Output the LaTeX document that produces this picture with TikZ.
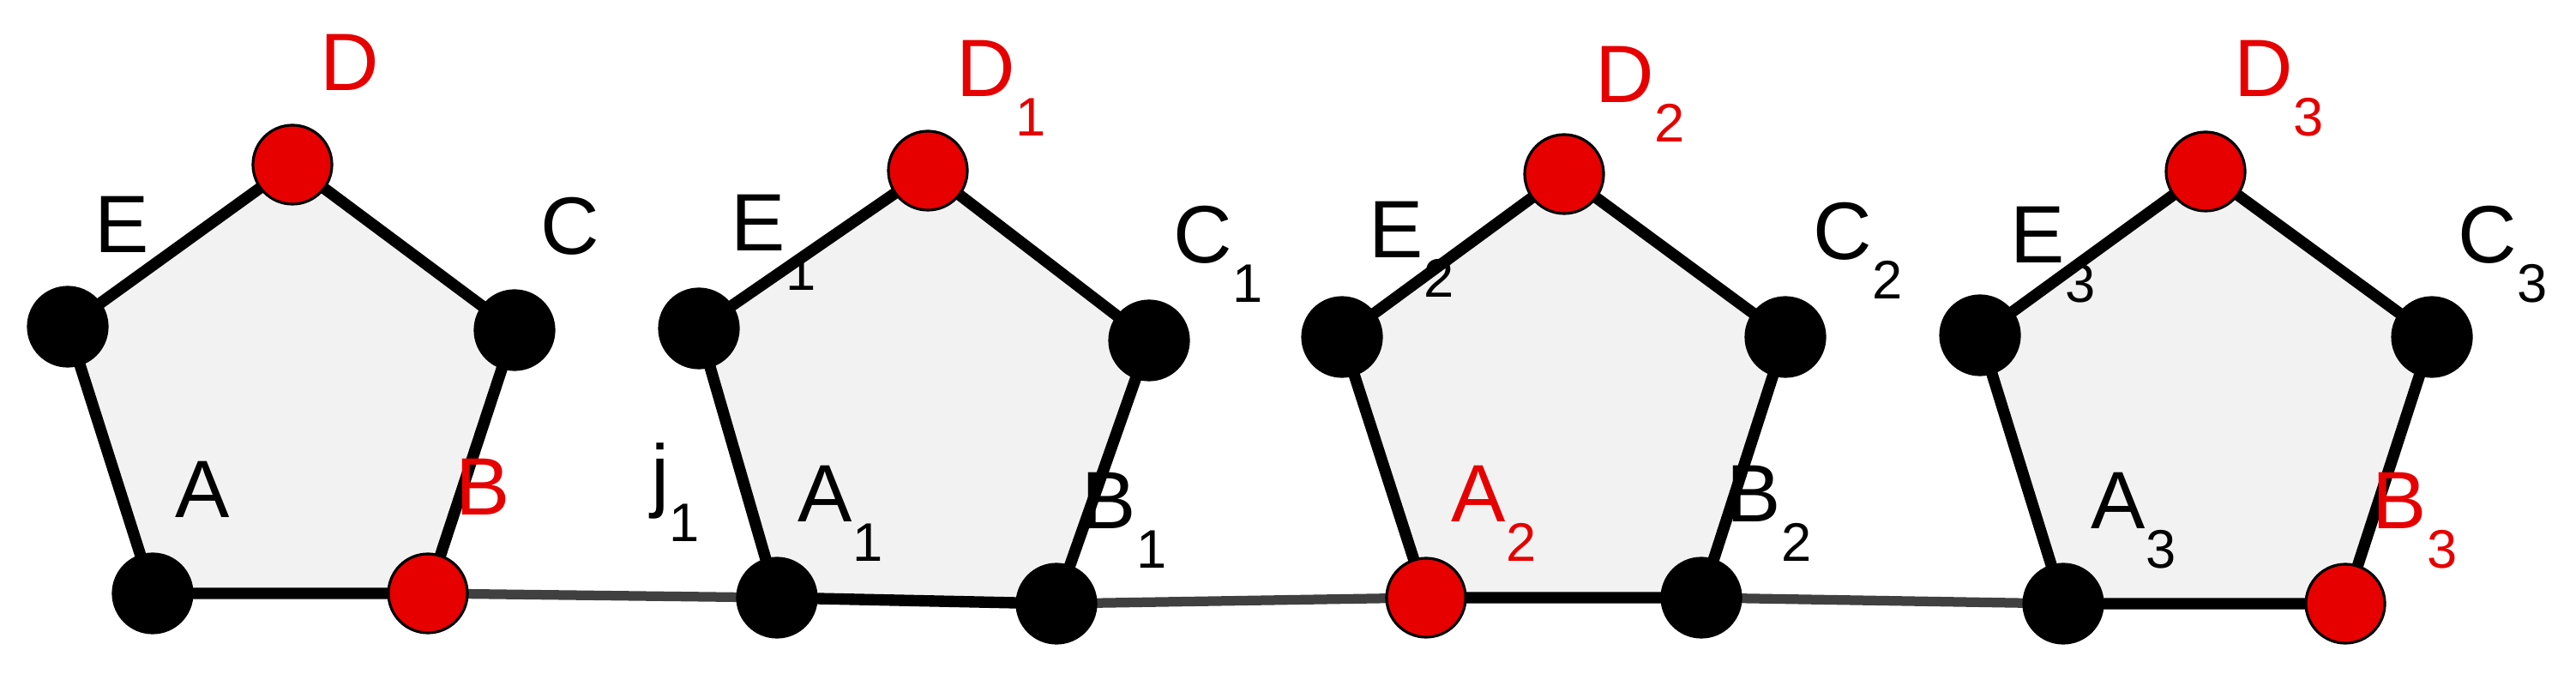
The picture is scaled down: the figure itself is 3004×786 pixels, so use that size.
\documentclass[tikz,border=0pt]{standalone}
\usepackage{fontspec}
\setmainfont{Liberation Sans}
\definecolor{pred}{HTML}{E60000}
\definecolor{pfill}{HTML}{F2F2F2}
\newcommand{\subn}[1]{\raisebox{-0.48em}{\fontsize{18}{18}\selectfont #1}}
\begin{document}
\begin{tikzpicture}[x=0.01cm,y=-0.01cm,
  edge/.style={line width=3.8pt,line join=round},
  base/.style={line width=3.2pt,draw=black!75},
  vb/.style={circle,fill=black,draw=black,line width=0.9pt,minimum size=0.92cm,inner sep=0pt},
  vr/.style={vb,fill=pred},
  lab/.style={anchor=base west,inner sep=0pt,font=\fontsize{27}{27}\selectfont},
  labr/.style={lab,text=pred}]
\useasboundingbox (0,0) rectangle (3004,786);
\coordinate (pA) at (178,692); \coordinate (pB) at (499,692); \coordinate (pC) at (600,385); \coordinate (pD) at (341,192); \coordinate (pE) at (79,381);
\coordinate (qA) at (906,697); \coordinate (qB) at (1232,704); \coordinate (qC) at (1340,397); \coordinate (qD) at (1082,199); \coordinate (qE) at (815,383);
\coordinate (rA) at (1663,697); \coordinate (rB) at (1984,697); \coordinate (rC) at (2082,393); \coordinate (rD) at (1824,203); \coordinate (rE) at (1565,393);
\coordinate (sA) at (2406,704); \coordinate (sB) at (2735,704); \coordinate (sC) at (2836,393); \coordinate (sD) at (2572,200); \coordinate (sE) at (2309,391);
\draw[base] (pA) -- (pB) -- (qA) -- (qB) -- (rA) -- (rB) -- (sA) -- (sB);
\foreach \p in {p,q,r,s}{
  \fill[pfill] (\p A) -- (\p B) -- (\p C) -- (\p D) -- (\p E) -- cycle;
  \draw[edge] (\p A) -- (\p B) -- (\p C) -- (\p D) -- (\p E) -- cycle;
}
\node[vb] (A) at (pA) {}; \node[vr] (B) at (pB) {}; \node[vb] (C) at (pC) {}; \node[vr] (D) at (pD) {}; \node[vb] (E) at (pE) {};
\node[vb] (A1) at (qA) {}; \node[vb] (B1) at (qB) {}; \node[vb] (C1) at (qC) {}; \node[vr] (D1) at (qD) {}; \node[vb] (E1) at (qE) {};
\node[vr] (A2) at (rA) {}; \node[vb] (B2) at (rB) {}; \node[vb] (C2) at (rC) {}; \node[vr] (D2) at (rD) {}; \node[vb] (E2) at (rE) {};
\node[vb] (A3) at (sA) {}; \node[vr] (B3) at (sB) {}; \node[vb] (C3) at (sC) {}; \node[vr] (D3) at (sD) {}; \node[vb] (E3) at (sE) {};
\node[labr] (lD) at (373,106) {D};
\node[lab] (lE) at (110,295) {E};
\node[lab] (lC) at (630,297) {C};
\node[lab] (lA) at (204,604) {A};
\node[labr] (lB) at (531,601) {B};
\node[labr] (lD1) at (1115,113) {D\subn{1}};
\node[lab] (lE1) at (852,293) {E\subn{1}};
\node[lab] (lC1) at (1368,307) {C\subn{1}};
\node[lab] (lj1) at (759,586) {j\subn{1}};
\node[lab] (lA1) at (930,609) {A\subn{1}};
\node[lab] (lB1) at (1261,617) {B\subn{1}};
\node[labr] (lD2) at (1860,120) {D\subn{2}};
\node[lab] (lE2) at (1596,301) {E\subn{2}};
\node[lab] (lC2) at (2114,303) {C\subn{2}};
\node[labr] (lA2) at (1692,609) {A\subn{2}};
\node[lab] (lB2) at (2013,609) {B\subn{2}};
\node[labr] (lD3) at (2605,113) {D\subn{3}};
\node[lab] (lE3) at (2344,307) {E\subn{3}};
\node[lab] (lC3) at (2866,307) {C\subn{3}};
\node[lab] (lA3) at (2438,617) {A\subn{3}};
\node[labr] (lB3) at (2766,617) {B\subn{3}};
\end{tikzpicture}
\end{document}
